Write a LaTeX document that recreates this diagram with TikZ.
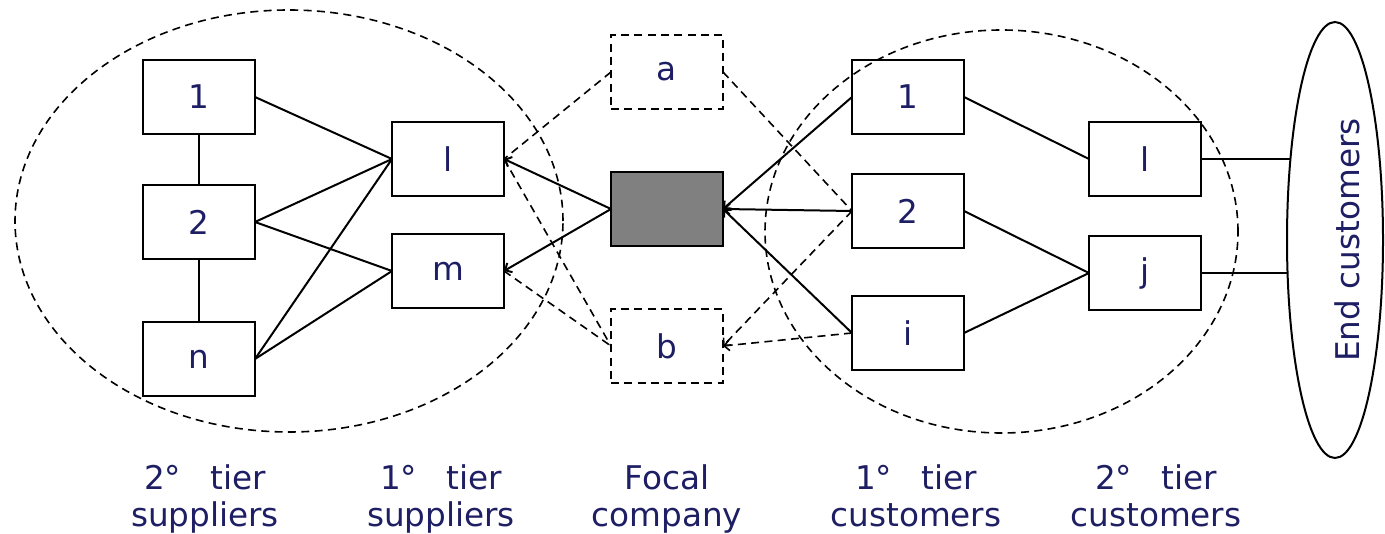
\documentclass[tikz,border=0pt]{standalone}
\usepackage{fontspec}
\setmainfont{DejaVu Sans}
\usetikzlibrary{shapes.geometric,arrows.meta}
\definecolor{navy}{RGB}{30,30,100}
\definecolor{focalgray}{RGB}{128,128,128}
\begin{document}
\begin{tikzpicture}[x=0.75pt,y=-0.75pt,
  box/.style={draw,line width=1.5pt,minimum width=84pt,minimum height=55.5pt,inner sep=0pt,outer sep=0pt,text=navy,font=\fontsize{24.5}{28}\selectfont},
  dbox/.style={box,line width=1.2pt,dash pattern=on 6pt off 4pt},
  ln/.style={line width=1.5pt},
  dl/.style={line width=1.2pt,dash pattern=on 6pt off 4pt},
  ar/.style={-{Straight Barb[length=4pt,width=8pt]}},
  dell/.style={draw,ellipse,line width=1.2pt,dash pattern=on 6pt off 4pt,inner sep=0pt,outer sep=0pt},
  lab/.style={text=navy,font=\fontsize{24.5}{27.75}\selectfont,align=center,inner sep=0pt}]
\useasboundingbox (0,0) rectangle (1385,534);
% dashed group ellipses
\node[dell,minimum width=411pt,minimum height=316.5pt] (LE) at (289,221) {};
\node[dell,minimum width=354.75pt,minimum height=302.25pt] (RE) at (1001.5,231.5) {};
% end customers ellipse
\node[draw,ellipse,line width=1.5pt,minimum width=72pt,minimum height=327pt,inner sep=0pt,outer sep=0pt] (E) at (1335,240) {};
\node[lab,rotate=90] (Et) at (1347,240) {End customers};
% boxes
\node[box] (s1) at (199,97) {1};
\node[box] (s2) at (199,222) {2};
\node[box] (sn) at (199,359) {n};
\node[box] (l) at (448,159) {l};
\node[box] (m) at (448,271) {m};
\node[dbox] (a) at (667,72) {a};
\node[box,fill=focalgray] (F) at (667,209) {};
\node[dbox] (b) at (667,346) {b};
\node[box] (c1) at (908,97) {1};
\node[box] (c2) at (908,211) {2};
\node[box] (ci) at (908,333) {i};
\node[box] (cl) at (1145,159) {l};
\node[box] (cj) at (1145,273) {j};
% solid connectors
\draw[ln] (s1.south) -- (s2.north);
\draw[ln] (s2.south) -- (sn.north);
\draw[ln] (s1.east) -- (l.west);
\draw[ln] (s2.east) -- (l.west);
\draw[ln] (s2.east) -- (m.west);
\draw[ln] (sn.east) -- (l.west);
\draw[ln] (sn.east) -- (m.west);
\draw[ln,ar] (F.west) -- (l.east);
\draw[ln,ar] (F.west) -- (m.east);
\draw[ln,ar] (c1.west) -- (F.east);
\draw[ln,ar] (c2.west) -- (F.east);
\draw[ln,ar] (ci.west) -- (F.east);
\draw[ln] (c1.east) -- (cl.west);
\draw[ln] (c2.east) -- (cj.west);
\draw[ln] (ci.east) -- (cj.west);
\draw[ln] (cl.east) -- (cl.east -| E.118.8);
\draw[ln] (cj.east) -- (cj.east -| E.214.9);
% dashed connectors
\draw[dl] (a.west) -- (l.east);
\draw[dl] (l.east) -- (b.west);
\draw[dl] (m.east) -- (b.west);
\draw[dl] (a.east) -- (c2.west);
\draw[dl,ar] (c2.west) -- (b.east);
\draw[dl,ar] (ci.west) -- (b.east);
% labels
\node[lab] (L1) at (205,501) {\strut 2°\hspace{0.9em}tier\\\strut suppliers};
\node[lab] (L2) at (441,501) {\strut 1°\hspace{0.9em}tier\\\strut suppliers};
\node[lab] (L3) at (667,501) {\strut Focal\\\strut company};
\node[lab] (L4) at (916,501) {\strut 1°\hspace{0.9em}tier\\\strut customers};
\node[lab] (L5) at (1156,501) {\strut 2°\hspace{0.9em}tier\\\strut customers};
\end{tikzpicture}
\end{document}
